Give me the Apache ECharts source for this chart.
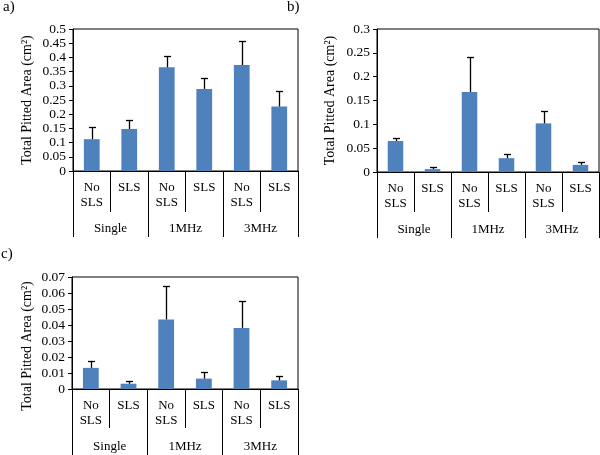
<!DOCTYPE html>
<html>
<head>
<meta charset="utf-8">
<script src="https://cdn.jsdelivr.net/npm/echarts@6/dist/echarts.min.js"></script>
<style>
html,body{margin:0;padding:0;background:#fff;}
#chart{width:600px;height:455px;}
</style>
</head>
<body>
<div id="chart"></div>
<script>
// ---- data ----
const categories = ['No\nSLS', 'SLS', 'No\nSLS', 'SLS', 'No\nSLS', 'SLS'];
const groups = ['Single', '1MHz', '3MHz'];
const yTitle = 'Total Pitted Area (cm²)';

const aValues = [0.112, 0.148, 0.365, 0.289, 0.373, 0.227];
const aErr    = [0.043, 0.033, 0.039, 0.040, 0.084, 0.055];
const aTicks  = { max: 0.5, interval: 0.05 };

const bValues = [0.065, 0.006, 0.168, 0.029, 0.102, 0.015];
const bErr    = [0.006, 0.004, 0.074, 0.008, 0.027, 0.007];
const bTicks  = { max: 0.3, interval: 0.05 };

const cValues = [0.0132, 0.0033, 0.0435, 0.0065, 0.0382, 0.0054];
const cErr    = [0.0041, 0.0015, 0.0209, 0.0039, 0.0165, 0.0025];
const cTicks  = { max: 0.07, interval: 0.01 };

const panelLabels = ['a)', 'b)', 'c)'];

// ---- layout / style ----
const FONT = 'Liberation Serif';
const BAR = '#4F81BD';
const grids = [
  { left: 73, top: 29, width: 225, height: 142 },
  { left: 377, top: 29, width: 222, height: 143 },
  { left: 72, top: 277, width: 226, height: 112 }
];
const nameGaps = [39, 40, 38];
const namePads = [[0,0,0,0],[0,0,0,0],[0,26,0,0]];
const innerTick = [41, 40, 39];
const outerTick = [66, 66, 70];
const panels = [
  { v: aValues, e: aErr, t: aTicks },
  { v: bValues, e: bErr, t: bTicks },
  { v: cValues, e: cErr, t: cTicks }
];

const xAxes = [], yAxes = [], series = [];
panels.forEach((p, i) => {
  xAxes.push({
    type: 'category', gridIndex: i, data: categories, position: 'bottom',
    axisLine: { show: true, lineStyle: { color: '#000', width: 1 } },
    axisTick: { show: true, interval: 0, length: innerTick[i], lineStyle: { color: '#000', width: 1 } },
    axisLabel: { interval: 0, margin: 9, fontFamily: FONT, fontSize: 13, color: '#000', lineHeight: 15 }
  });
  xAxes.push({
    type: 'category', gridIndex: i, data: groups, position: 'bottom',
    axisLine: { show: false },
    axisTick: { show: true, interval: 0, length: outerTick[i], lineStyle: { color: '#000', width: 1 } },
    axisLabel: { interval: 0, margin: 50, fontFamily: FONT, fontSize: 13, color: '#000', lineHeight: 15 }
  });
  yAxes.push({
    type: 'value', gridIndex: i, min: 0, max: p.t.max, interval: p.t.interval,
    name: yTitle, nameLocation: 'middle', nameRotate: 90, nameGap: nameGaps[i],
    nameMoveOverlap: false,
    nameTextStyle: { fontFamily: FONT, fontSize: 14, color: '#000', padding: namePads[i] },
    axisLine: { show: true, lineStyle: { color: '#000', width: 1 } },
    axisTick: { show: true, length: 4, lineStyle: { color: '#000' } },
    splitLine: { show: false },
    axisLabel: { margin: 7, fontFamily: FONT, fontSize: 13.5, color: '#000',
      formatter: v => String(parseFloat(v.toFixed(4))) }
  });
  series.push({
    type: 'bar', xAxisIndex: i * 2, yAxisIndex: i, data: p.v,
    barWidth: '42%', itemStyle: { color: BAR }, silent: true
  });
  series.push({
    type: 'custom', xAxisIndex: i * 2, yAxisIndex: i, silent: true,
    data: p.v.map((v, k) => [k, v, v + p.e[k]]),
    renderItem: function (params, api) {
      const base = api.coord([api.value(0), api.value(1)]);
      const top = api.coord([api.value(0), api.value(2)]);
      const x = Math.round(base[0]) + 0.5;
      const yt = Math.round(top[1]) + 0.5;
      return {
        type: 'group',
        children: [
          { type: 'line', shape: { x1: x, y1: base[1], x2: x, y2: yt }, style: { stroke: '#000', lineWidth: 1.3 } },
          { type: 'line', shape: { x1: x - 3.5, y1: yt, x2: x + 3.5, y2: yt }, style: { stroke: '#000', lineWidth: 1.3 } }
        ]
      };
    },
    z: 5
  });
});

const labelPos = [{ left: 3, top: 0 }, { left: 287, top: 0 }, { left: 1, top: 247 }];
const titles = panelLabels.map((t, i) => ({
  text: t, left: labelPos[i].left, top: labelPos[i].top, padding: 0,
  textStyle: { fontFamily: FONT, fontSize: 15, fontWeight: 'normal', color: '#000' }
}));

const chart = echarts.init(document.getElementById('chart'), null, { renderer: 'canvas' });
chart.setOption({
  animation: false,
  backgroundColor: '#fff',
  title: titles,
  grid: grids.map(g => Object.assign({ show: true, borderColor: '#000', borderWidth: 1, backgroundColor: 'transparent', containLabel: false }, g)),
  xAxis: xAxes,
  yAxis: yAxes,
  series: series
});
</script>
</body>
</html>
